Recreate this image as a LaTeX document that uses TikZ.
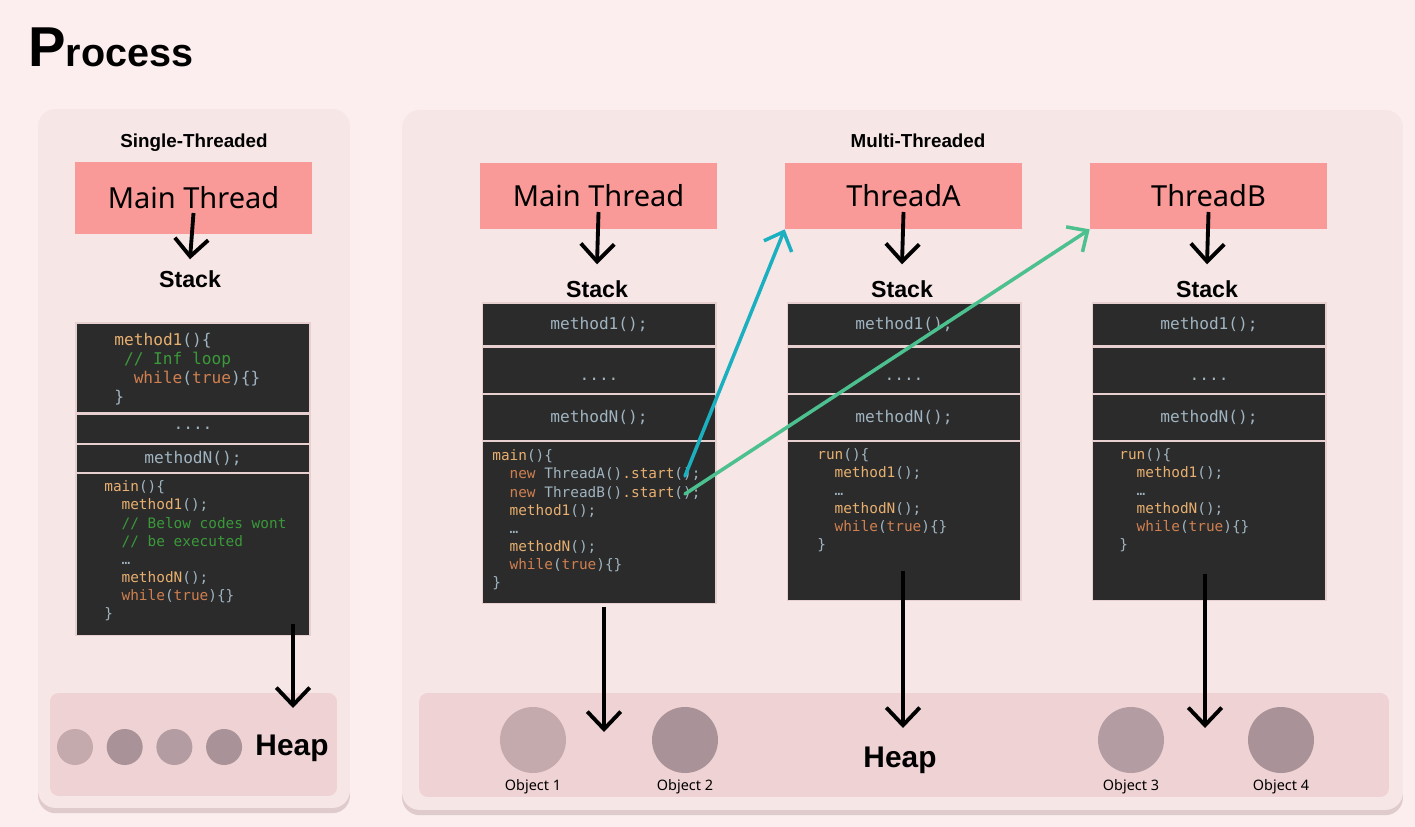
\documentclass[tikz,border=0pt]{standalone}
\usepackage{fontspec}
\setmainfont{Liberation Sans}
\setmonofont{DejaVu Sans Mono}
\newfontfamily\threadfont{Noto Sans}
\usepackage{tikz}
\usetikzlibrary{
  arrows.meta,
  positioning,
  shadows
}
\definecolor{pageBg}{RGB}{252, 238, 238}
\definecolor{panelPink}{RGB}{247, 230, 230}
\definecolor{heapPink}{RGB}{239, 210, 211}
\definecolor{threadSalmon}{RGB}{250, 154, 152}
\definecolor{codeBg}{RGB}{43, 43, 43}
\definecolor{cellEdge}{RGB}{232, 208, 208}
\definecolor{codeFn}{RGB}{232, 176, 112}
\definecolor{codeKw}{RGB}{208, 128, 80}
\definecolor{codePn}{RGB}{160, 180, 192}
\definecolor{codeCm}{RGB}{58, 154, 58}
\definecolor{objLight}{RGB}{196, 169, 173}
\definecolor{objMid}{RGB}{180, 157, 162}
\definecolor{objDark}{RGB}{169, 146, 152}
\definecolor{spawnTeal}{RGB}{27, 176, 192}
\definecolor{spawnGreen}{RGB}{76, 192, 142}
\definecolor{shadowPink}{RGB}{205, 180, 182}

\newcommand{\cFn}[1]{\textcolor{codeFn}{#1}}
\newcommand{\cKw}[1]{\textcolor{codeKw}{#1}}
\newcommand{\cCm}[1]{\textcolor{codeCm}{#1}}
\newcommand{\cTab}{\hspace*{1.2em}}

\begin{document}
\begin{tikzpicture}[
    x=0.02cm, y=-0.02cm,
    panel/.style={rectangle, fill=panelPink, rounded corners=10pt, drop shadow={shadow xshift=0pt, shadow yshift=-3pt, fill=shadowPink, opacity=0.6}},
    heap/.style={rectangle, fill=heapPink, rounded corners=5pt},
    thread/.style={rectangle, fill=threadSalmon, minimum width=4.74cm, minimum height=1.32cm, font=\threadfont\fontsize{16.5}{20}\selectfont},
    cell/.style={rectangle, fill=codeBg, draw=cellEdge, line width=0.6pt, minimum width=4.68cm, text=codePn, font=\ttfamily\fontsize{9.2}{11}\selectfont},
    code/.style={anchor=base west, align=left, inner sep=0pt, text=codePn, font=\ttfamily\fontsize{8.2}{10.3}\selectfont},
    title/.style={font=\bfseries\fontsize{10.7}{13}\selectfont},
    stacklbl/.style={font=\bfseries\fontsize{13.2}{16}\selectfont},
    heaplbl/.style={font=\bfseries\fontsize{17}{20}\selectfont},
    obj/.style={circle, inner sep=0pt, minimum size=1.32cm},
    dot/.style={circle, inner sep=0pt, minimum size=0.72cm},
    objlbl/.style={font=\threadfont\fontsize{8.2}{10}\selectfont},
    arrow/.style={-{Straight Barb[length=10pt, width=19pt]}, line width=2.2pt},
    spawn/.style={-{Straight Barb[length=9pt, width=17pt]}, line width=2pt, line cap=round}
]
    \fill[pageBg] (0,0) rectangle (1415,827);
    \useasboundingbox (0,0) rectangle (1415,827);

    \node[anchor=base west, inner sep=0pt] (process) at (28,67) {\bfseries\fontsize{32}{32}\selectfont P\fontsize{22.5}{22.5}\selectfont rocess};

    % single-threaded process
    \node[panel, minimum width=6.24cm, minimum height=13.98cm] (single) at (194,458.5) {};
    \node[title] (singleT) at (194,143) {Single-Threaded};
    \node[thread, minimum height=1.44cm] (sMain) at (193.5,198) {Main Thread};
    \node[stacklbl] (sStack) at (190,279) {Stack};

    \node[cell, minimum height=1.8cm] (sC1) at (193,368) {};
    \node[cell, minimum height=0.58cm, below=0pt of sC1] (sC2) {....};
    \node[cell, minimum height=0.56cm, below=0pt of sC2] (sC3) {methodN();};
    \node[cell, minimum height=3.24cm, below=0pt of sC3] (sC4) {};

    % base of a multi-line node = last line
    \node[code, font=\ttfamily\fontsize{9.2}{10.8}\selectfont] (sCode1) at (114,402.5) {\cFn{method1}()\{\\
        \hspace*{0.6em}\cCm{// Inf loop}\\
        \cTab\cKw{while}(\cKw{true})\{\}\\
        \}};
    \node[code] (sCode4) at (104,618.5) {\cFn{main}()\{\\
        \cTab\cFn{method1}();\\
        \cTab\cCm{// Below codes wont}\\
        \cTab\cCm{// be executed}\\
        \cTab…\\
        \cTab\cFn{methodN}();\\
        \cTab\cKw{while}(\cKw{true})\{\}\\
        \}};

    \node[heap, minimum width=5.74cm, minimum height=2.06cm] (sHeap) at (193.5,744.5) {};
    \node[dot, fill=objLight] (sObj1) at (75,747) {};
    \node[dot, fill=objDark, right=0.26cm of sObj1] (sObj2) {};
    \node[dot, fill=objMid, right=0.26cm of sObj2] (sObj3) {};
    \node[dot, fill=objDark, right=0.26cm of sObj3] (sObj4) {};
    \node[heaplbl] (sHeapT) at (292,748) {Heap};

    \coordinate (sHeapIn) at (293,708);
    \draw[arrow] ([yshift=-0.3cm]sMain.center) -- ([yshift=0.1cm]sStack.north);
    \draw[arrow] ([yshift=0.24cm]sC4.south -| sHeapIn) -- (sHeapIn);

    % multi-threaded process
    \node[panel, minimum width=20.02cm, minimum height=14cm] (multi) at (902.5,460) {};
    \node[title] (multiT) at (918,141) {Multi-Threaded};
    \node[heap, minimum width=19.4cm, minimum height=2.08cm] (mHeap) at (904,745) {};

    \node[thread] (mMain) at (598.5,196) {Main Thread};
    \node[thread] (tA) at (903.5,196) {ThreadA};
    \node[thread] (tB) at (1208.5,196) {ThreadB};

    \node[stacklbl] (mStack) at (597,289) {Stack};
    \node[stacklbl] (aStack) at (902,289) {Stack};
    \node[stacklbl] (bStack) at (1207,289) {Stack};

    \node[cell, minimum height=0.86cm] (mC1) at (599,324.5) {method1();};
    \node[cell, minimum height=0.92cm, below=0pt of mC1] (mC2) {\raisebox{-6pt}[0pt][0pt]{....}};
    \node[cell, minimum height=0.92cm, below=0pt of mC2] (mC3) {methodN();};
    \node[cell, minimum height=3.24cm, below=0pt of mC3] (mC4) {};

    \node[cell, minimum height=0.86cm] (aC1) at (904,324.5) {method1();};
    \node[cell, minimum height=0.92cm, below=0pt of aC1] (aC2) {\raisebox{-6pt}[0pt][0pt]{....}};
    \node[cell, minimum height=0.92cm, below=0pt of aC2] (aC3) {methodN();};
    \node[cell, minimum height=3.18cm, below=0pt of aC3] (aC4) {};

    \node[cell, minimum height=0.86cm] (bC1) at (1209,324.5) {method1();};
    \node[cell, minimum height=0.92cm, below=0pt of bC1] (bC2) {\raisebox{-6pt}[0pt][0pt]{....}};
    \node[cell, minimum height=0.92cm, below=0pt of bC2] (bC3) {methodN();};
    \node[cell, minimum height=3.18cm, below=0pt of bC3] (bC4) {};

    \node[code] (mCode) at (492,587.5) {\cFn{main}()\{\\
        \cTab\cKw{new} ThreadA()\cFn{.start}();\\
        \cTab\cKw{new} ThreadB()\cFn{.start}();\\
        \cTab\cFn{method1}();\\
        \cTab…\\
        \cTab\cFn{methodN}();\\
        \cTab\cKw{while}(\cKw{true})\{\}\\
        \}};
    \node[code] (aCode) at (817,549.5) {\cFn{run}()\{\\
        \cTab\cFn{method1}();\\
        \cTab…\\
        \cTab\cFn{methodN}();\\
        \cTab\cKw{while}(\cKw{true})\{\}\\
        \}};
    \node[code] (bCode) at (1119,549.5) {\cFn{run}()\{\\
        \cTab\cFn{method1}();\\
        \cTab…\\
        \cTab\cFn{methodN}();\\
        \cTab\cKw{while}(\cKw{true})\{\}\\
        \}};

    \node[obj, fill=objLight] (obj1) at (533,740) {};
    \node[obj, fill=objDark] (obj2) at (685,740) {};
    \node[obj, fill=objMid] (obj3) at (1131,740) {};
    \node[obj, fill=objDark] (obj4) at (1281,740) {};
    \node[objlbl, below=0pt of obj1] (obj1T) {Object 1};
    \node[objlbl, below=0pt of obj2] (obj2T) {Object 2};
    \node[objlbl, below=0pt of obj3] (obj3T) {Object 3};
    \node[objlbl, below=0pt of obj4] (obj4T) {Object 4};
    \node[heaplbl] (mHeapT) at (900,760) {Heap};

    \draw[arrow] ([yshift=-0.32cm]mMain.center) -- ([yshift=0.2cm]mStack.north);
    \draw[arrow] ([yshift=-0.32cm]tA.center) -- ([yshift=0.2cm]aStack.north);
    \draw[arrow] ([yshift=-0.32cm]tB.center) -- ([yshift=0.2cm]bStack.north);

    \coordinate (mHeapIn) at (604,732);
    \coordinate (aHeapIn) at (903,728);
    \coordinate (bHeapIn) at (1205,728);
    \draw[arrow] ([yshift=-0.06cm]mC4.south -| mHeapIn) -- (mHeapIn);
    \draw[arrow] ([yshift=0.6cm]aC4.south -| aHeapIn) -- (aHeapIn);
    \draw[arrow] ([yshift=0.54cm]bC4.south -| bHeapIn) -- (bHeapIn);

    % spawning the threads
    \coordinate (startA) at (685,476);
    \coordinate (startB) at (685,494);
    \draw[spawn, draw=spawnTeal] (startA) -- (tA.south west);
    \draw[spawn, draw=spawnGreen] (startB) -- (tB.south west);

\end{tikzpicture}
\end{document}
